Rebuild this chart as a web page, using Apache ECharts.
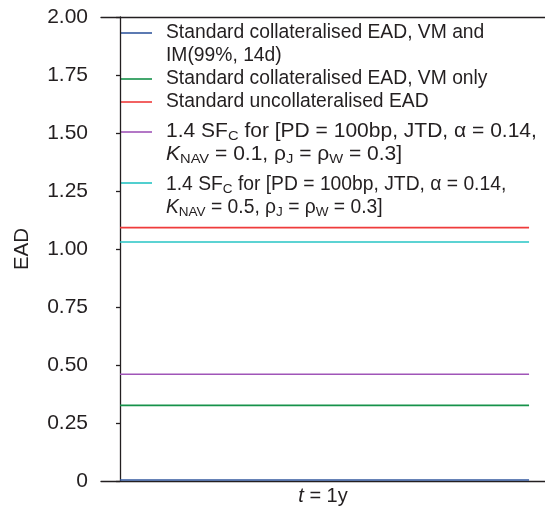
<!DOCTYPE html>
<html><head><meta charset="utf-8">
<script src="https://cdn.jsdelivr.net/npm/echarts@6/dist/echarts.min.js"></script>
<style>html,body{margin:0;padding:0;background:#fff}#c{width:545px;height:514px}</style>
</head><body><div id="c"></div>
<script>
// ---- data ----
const seriesNames = [
  'Standard collateralised EAD, VM and IM(99%, 14d)',
  'Standard collateralised EAD, VM only',
  'Standard uncollateralised EAD',
  '1.4 SFC for [PD = 100bp, JTD, α = 0.14, KNAV = 0.1, ρJ = ρW = 0.3]',
  '1.4 SFC for [PD = 100bp, JTD, α = 0.14, KNAV = 0.5, ρJ = ρW = 0.3]'
];
const legendLabels = [
  'Standard collateralised EAD, VM and\nIM(99%, 14d)',
  'Standard collateralised EAD, VM only',
  'Standard uncollateralised EAD',
  '1.4 SF{sub|C} for [PD = 100bp, JTD, α = 0.14,\n{it|K}{sub|NAV} = 0.1, ρ{sub|J} = ρ{sub|W} = 0.3]',
  '1.4 SF{sub|C} for [PD = 100bp, JTD, α = 0.14,\n{it|K}{sub|NAV} = 0.5, ρ{sub|J} = ρ{sub|W} = 0.3]'
];
const eadValues = [0.004, 0.326, 1.092, 0.460, 1.030];
const tSpan = [0, 1];
const xAxisLabel = '{it|t} = 1y';
const yAxisLabel = 'EAD';
const yMin = 0, yMax = 2, yStep = 0.25;

// ---- style ----
const colors = ['#33589f', '#16924a', '#ef3b3b', '#a055b8', '#26c4c4'];
const ink = '#231f20';
const FONT = 'Liberation Sans, Arial, sans-serif';
const LFS = 19.3;
const legendStretch = [1, 1, 1, 1.09, 1];

const chart = echarts.init(document.getElementById('c'), null, {renderer: 'canvas'});

const series = seriesNames.map((name, i) => ({
  name,
  type: 'line',
  data: tSpan.map(t => [t, eadValues[i]]),
  symbol: 'none',
  lineStyle: {color: colors[i], width: 1.6},
  itemStyle: {color: colors[i]},
  z: 3
}));

// legend built as graphic (icon aligned to first text line)
const legendRich = {
  sub: {fontSize: 13.5, lineHeight: 9, verticalAlign: 'bottom', fontFamily: FONT, fill: ink},
  it: {fontStyle: 'italic', fontSize: LFS, fontFamily: FONT, fill: ink}
};
const rowTops = [33, 79, 102, 132, 185];
const iconYs = [33, 79, 102, 132, 183];
const graphic = [];
legendLabels.forEach((lab, i) => {
  graphic.push({
    type: 'line', silent: true,
    shape: {x1: 120, y1: iconYs[i], x2: 152, y2: iconYs[i]},
    style: {stroke: colors[i], lineWidth: 1.6}
  });
  graphic.push({
    type: 'text', silent: true,
    x: 166, y: rowTops[i] - 11.5, scaleX: legendStretch[i],
    style: {
      text: lab, fill: ink, fontSize: LFS, fontFamily: FONT,
      lineHeight: 23, verticalAlign: 'top', align: 'left', rich: legendRich
    }
  });
});

chart.setOption({
  animation: false,
  backgroundColor: '#fff',
  grid: {left: 101, right: 0, top: 17, bottom: 33, containLabel: false},
  xAxis: [{
    type: 'value', min: -0.0465, max: 1.039, position: 'bottom',
    axisLine: {show: true, lineStyle: {color: ink, width: 1.3}},
    axisTick: {show: false}, axisLabel: {show: false}, splitLine: {show: false},
    name: xAxisLabel, nameLocation: 'middle', nameGap: 5,
    nameTextStyle: {color: ink, fontSize: 20, fontFamily: FONT, verticalAlign: 'top',
      rich: {it: {fontStyle: 'italic', fontSize: 20, fontFamily: FONT, color: ink}}}
  }, {
    type: 'value', min: -0.0465, max: 1.039, position: 'top',
    axisLine: {show: true, onZero: false, lineStyle: {color: ink, width: 1.3}},
    axisTick: {show: false}, axisLabel: {show: false}, splitLine: {show: false}
  }],
  yAxis: {
    type: 'value', min: yMin, max: yMax, interval: yStep,
    axisLine: {show: true, lineStyle: {color: ink, width: 1.3}},
    axisTick: {show: true, inside: false, length: 4, lineStyle: {color: ink, width: 1.3}},
    axisLabel: {color: ink, fontSize: 21, fontFamily: FONT, margin: 13,
      formatter: v => v === 0 ? '0' : v.toFixed(2)},
    splitLine: {show: false},
    name: yAxisLabel, nameLocation: 'middle', nameGap: 68, nameRotate: 90,
    nameTextStyle: {color: ink, fontSize: 20.5, fontFamily: FONT}
  },
  series,
  graphic
});
</script>
</body></html>
